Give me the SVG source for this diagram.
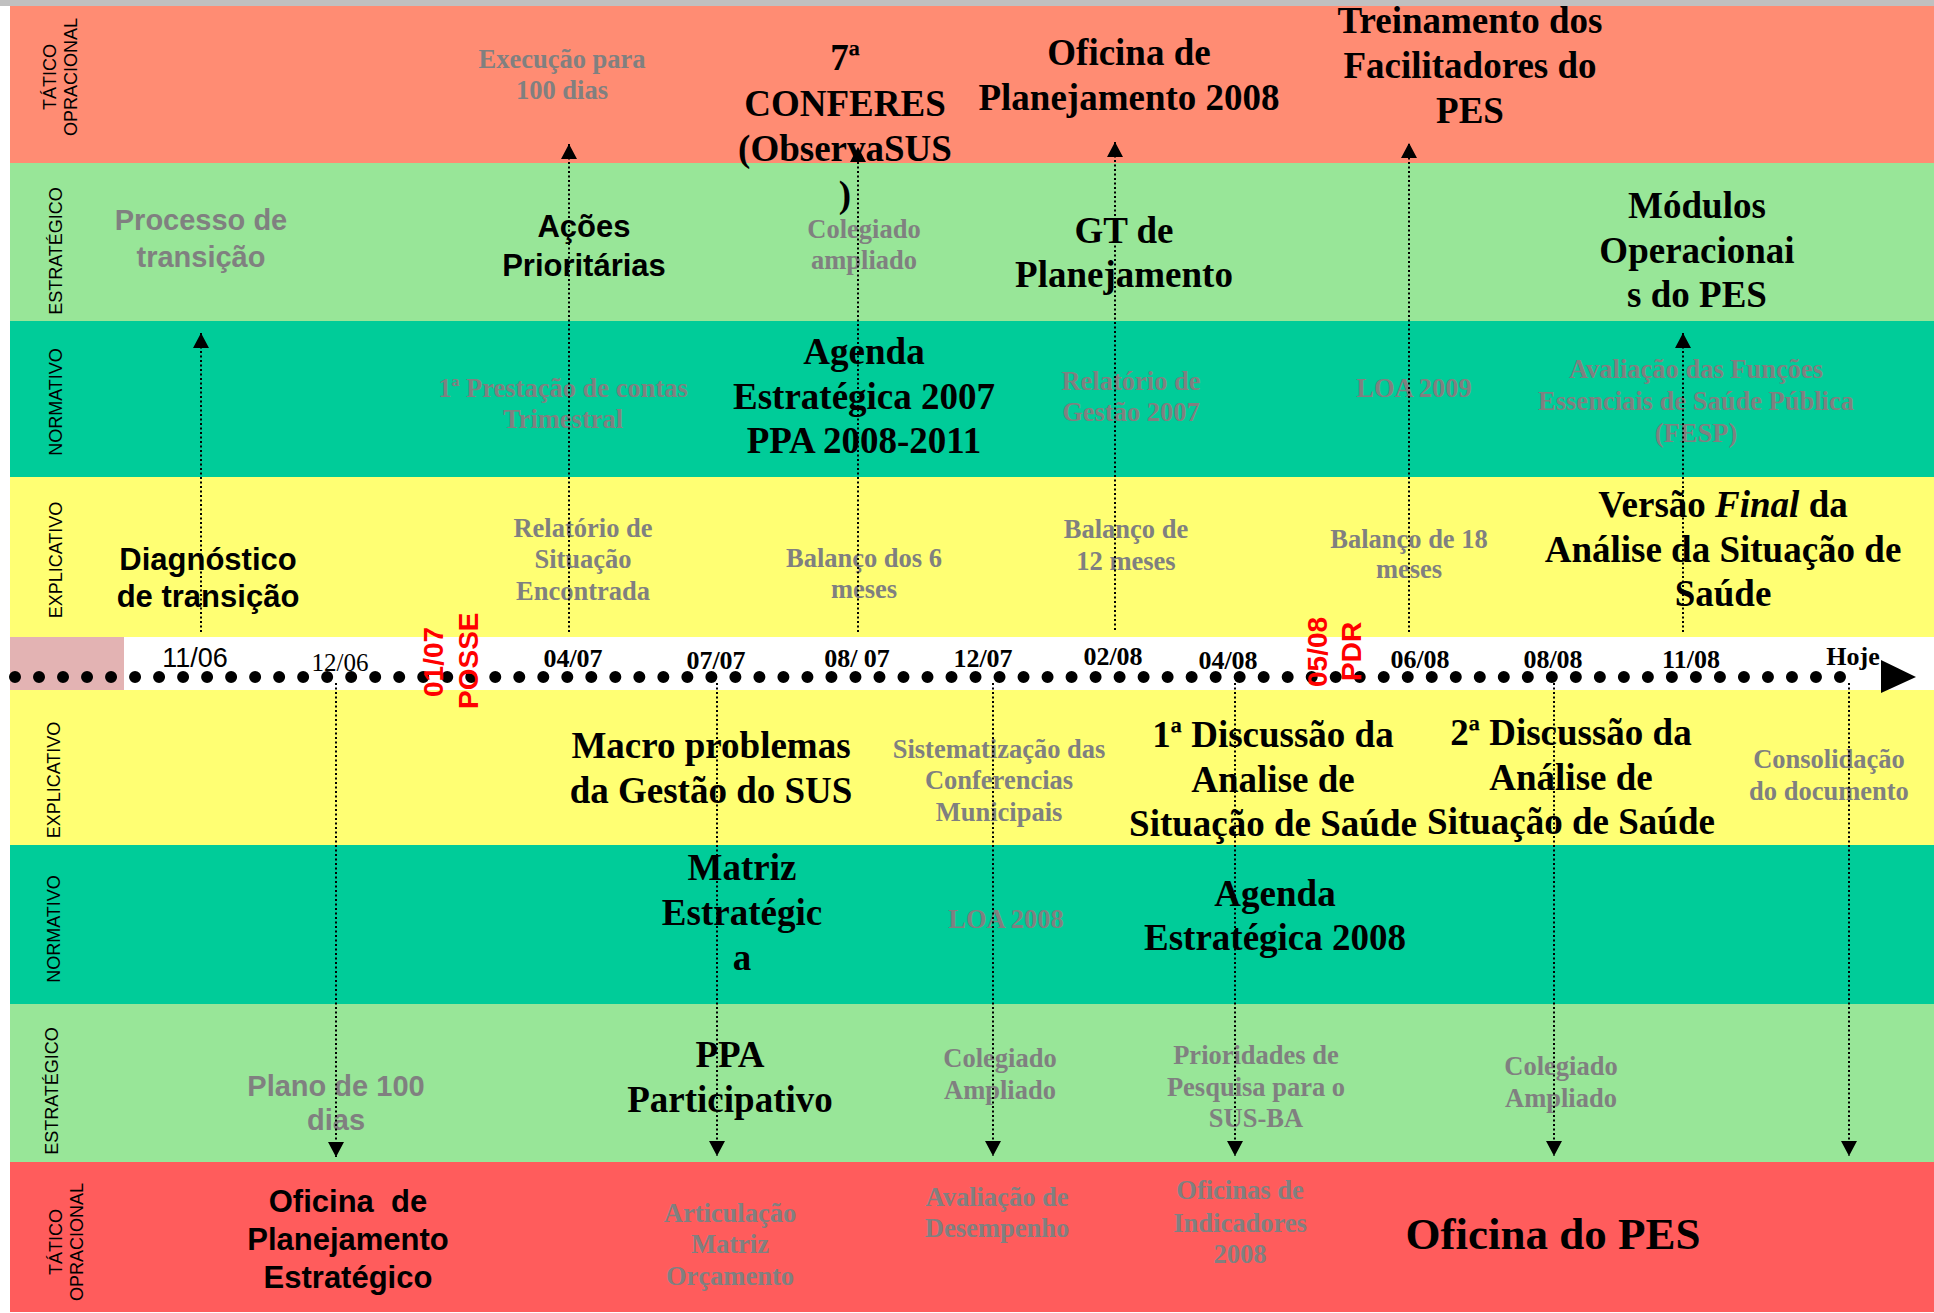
<svg xmlns="http://www.w3.org/2000/svg" width="1934" height="1313" viewBox="0 0 1934 1313">
<defs>
<style>
.s{font-family:"Liberation Serif","Times New Roman",serif;font-weight:bold;text-anchor:middle}
.g{fill:#808080;font-size:26.5px}
.k{fill:#000;font-size:37px}
.a{font-family:"Liberation Sans",Arial,sans-serif;font-weight:bold;text-anchor:middle}
.ag{fill:#808080;font-size:29px}
.ak{fill:#000;font-size:31px}
.side{font-family:"Liberation Sans",Arial,sans-serif;font-size:18px;fill:#000;text-anchor:middle}
.date{font-family:"Liberation Serif","Times New Roman",serif;font-weight:bold;font-size:26px;text-anchor:middle;fill:#000}
.red{font-family:"Liberation Sans",Arial,sans-serif;font-weight:bold;font-size:28px;fill:#FF0000}
.conn{stroke:#000;stroke-width:2;stroke-dasharray:2 2.5;fill:none}
</style>
<marker id="ah" markerUnits="userSpaceOnUse" markerWidth="16" markerHeight="16" refX="15" refY="8" orient="auto" viewBox="0 0 16 16"><path d="M0,0 L15,8 L0,16 z" fill="#000"/></marker>
</defs>
<g id="bands">
<rect x="0" y="0" width="1934" height="6" fill="#C0C0C0"/>
<rect x="10" y="6" width="1924" height="157" fill="#FF8C73"/>
<rect x="10" y="163" width="1924" height="158" fill="#98E698"/>
<rect x="10" y="321" width="1924" height="156" fill="#00CC99"/>
<rect x="10" y="477" width="1924" height="160" fill="#FFFF73"/>
<rect x="10" y="637" width="114" height="53" fill="#E3B3B3"/>
<rect x="10" y="690" width="1924" height="155" fill="#FFFF73"/>
<rect x="10" y="845" width="1924" height="159" fill="#00CC99"/>
<rect x="10" y="1004" width="1924" height="158" fill="#98E698"/>
<rect x="10" y="1162" width="1924" height="150" fill="#FF5C5C"/>
</g>
<g id="side-labels" class="side">
<g transform="translate(56,77) rotate(-90)"><text x="0" y="0">TÁTICO</text><text x="0" y="21">OPRACIONAL</text></g>
<text transform="translate(62,251) rotate(-90)">ESTRATÉGICO</text>
<text transform="translate(62,402) rotate(-90)">NORMATIVO</text>
<text transform="translate(62,560) rotate(-90)">EXPLICATIVO</text>
<text transform="translate(60,780) rotate(-90)">EXPLICATIVO</text>
<text transform="translate(60,929) rotate(-90)">NORMATIVO</text>
<text transform="translate(58,1091) rotate(-90)">ESTRATÉGICO</text>
<g transform="translate(62,1242) rotate(-90)"><text x="0" y="0">TÁTICO</text><text x="0" y="21">OPRACIONAL</text></g>
</g>
<g id="timeline">
<line x1="15" y1="677" x2="1864" y2="677" stroke="#000" stroke-width="12" stroke-linecap="round" stroke-dasharray="0 24.013"/>
<polygon points="1881,660 1916,677 1881,693" fill="#000"/>
<text x="195" y="667" font-family="Liberation Sans, Arial, sans-serif" font-size="27" text-anchor="middle">11/06</text>
<text x="340" y="671" font-family="Liberation Serif, Times New Roman, serif" font-size="25" text-anchor="middle">12/06</text>
<text class="date" x="573" y="667">04/07</text>
<text class="date" x="716" y="669">07/07</text>
<text class="date" x="857" y="667">08/ 07</text>
<text class="date" x="983" y="667">12/07</text>
<text class="date" x="1113" y="665">02/08</text>
<text class="date" x="1228" y="669">04/08</text>
<text class="date" x="1420" y="668">06/08</text>
<text class="date" x="1553" y="668">08/08</text>
<text class="date" x="1691" y="668">11/08</text>
<text class="date" x="1853" y="665">Hoje</text>
<text class="red" transform="translate(443,697) rotate(-90)">01/07</text>
<text class="red" transform="translate(478,709) rotate(-90)">POSSE</text>
<text class="red" transform="translate(1327,687) rotate(-90)">05/08</text>
<text class="red" transform="translate(1361,681) rotate(-90)">PDR</text>
</g>
<g id="n-exec"><text class="s g"><tspan x="562" y="68">Execução para</tspan><tspan x="562" y="99">100 dias</tspan></text></g>
<g id="n-conferes"><text class="s k"><tspan x="845" y="70">7ª</tspan><tspan x="845" y="116">CONFERES</tspan><tspan x="845" y="161">(ObservaSUS</tspan><tspan x="845" y="207">)</tspan></text></g>
<g id="n-oficina2008"><text class="s k"><tspan x="1129" y="65">Oficina de</tspan><tspan x="1129" y="110">Planejamento 2008</tspan></text></g>
<g id="n-treinamento"><text class="s k"><tspan x="1470" y="33">Treinamento dos</tspan><tspan x="1470" y="78">Facilitadores do</tspan><tspan x="1470" y="123">PES</tspan></text></g>
<g id="n-processo"><text class="a ag"><tspan x="201" y="230">Processo de</tspan><tspan x="201" y="267">transição</tspan></text></g>
<g id="n-acoes"><text class="a ak"><tspan x="584" y="237">Ações</tspan><tspan x="584" y="276">Prioritárias</tspan></text></g>
<g id="n-colegiado1"><text class="s g"><tspan x="864" y="238">Colegiado</tspan><tspan x="864" y="269">ampliado</tspan></text></g>
<g id="n-gt"><text class="s k"><tspan x="1124" y="243">GT de</tspan><tspan x="1124" y="287">Planejamento</tspan></text></g>
<g id="n-modulos"><text class="s k"><tspan x="1697" y="218">Módulos</tspan><tspan x="1697" y="263">Operacionai</tspan><tspan x="1697" y="307">s do PES</tspan></text></g>
<g id="n-prestacao"><text class="s g"><tspan x="563" y="397">1ª Prestação de contas</tspan><tspan x="563" y="428">Trimestral</tspan></text></g>
<g id="n-agenda2007"><text class="s k"><tspan x="864" y="364">Agenda</tspan><tspan x="864" y="409">Estratégica 2007</tspan><tspan x="864" y="453">PPA 2008-2011</tspan></text></g>
<g id="n-relgestao"><text class="s g"><tspan x="1131" y="390">Relatório de</tspan><tspan x="1131" y="421">Gestão 2007</tspan></text></g>
<g id="n-loa2009"><text class="s g" x="1414" y="397">LOA 2009</text></g>
<g id="n-fesp"><text class="s g"><tspan x="1696" y="378">Avaliação das Funções</tspan><tspan x="1696" y="410">Essenciais de Saúde Pública</tspan><tspan x="1696" y="442">(FESP)</tspan></text></g>
<g id="n-diagnostico"><text class="a ak"><tspan x="208" y="570">Diagnóstico</tspan><tspan x="208" y="607">de transição</tspan></text></g>
<g id="n-relsituacao"><text class="s g"><tspan x="583" y="537">Relatório de</tspan><tspan x="583" y="568">Situação</tspan><tspan x="583" y="600">Encontrada</tspan></text></g>
<g id="n-balanco6"><text class="s g"><tspan x="864" y="567">Balanço dos 6</tspan><tspan x="864" y="598">meses</tspan></text></g>
<g id="n-balanco12"><text class="s g"><tspan x="1126" y="538">Balanço de</tspan><tspan x="1126" y="570">12 meses</tspan></text></g>
<g id="n-balanco18"><text class="s g"><tspan x="1409" y="548">Balanço de 18</tspan><tspan x="1409" y="578">meses</tspan></text></g>
<g id="n-versao"><text class="s k"><tspan x="1723" y="517">Versão <tspan font-style="italic">Final</tspan> da</tspan><tspan x="1723" y="562">Análise da Situação de</tspan><tspan x="1723" y="606">Saúde</tspan></text></g>
<g id="n-macro"><text class="s k"><tspan x="711" y="758">Macro problemas</tspan><tspan x="711" y="803">da Gestão do SUS</tspan></text></g>
<g id="n-sistematizacao"><text class="s g"><tspan x="999" y="758">Sistematização das</tspan><tspan x="999" y="789">Conferencias</tspan><tspan x="999" y="821">Municipais</tspan></text></g>
<g id="n-disc1"><text class="s k"><tspan x="1273" y="747">1ª Discussão da</tspan><tspan x="1273" y="792">Analise de</tspan><tspan x="1273" y="836">Situação de Saúde</tspan></text></g>
<g id="n-disc2"><text class="s k"><tspan x="1571" y="745">2ª Discussão da</tspan><tspan x="1571" y="790">Análise de</tspan><tspan x="1571" y="834">Situação de Saúde</tspan></text></g>
<g id="n-consolidacao"><text class="s g"><tspan x="1829" y="768">Consolidação</tspan><tspan x="1829" y="800">do documento</tspan></text></g>
<g id="n-matriz"><text class="s k"><tspan x="742" y="880">Matriz</tspan><tspan x="742" y="925">Estratégic</tspan><tspan x="742" y="970">a</tspan></text></g>
<g id="n-loa2008"><text class="s g" x="1006" y="928">LOA 2008</text></g>
<g id="n-agenda2008"><text class="s k"><tspan x="1275" y="906">Agenda</tspan><tspan x="1275" y="950">Estratégica 2008</tspan></text></g>
<g id="n-plano"><text class="a ag"><tspan x="336" y="1096">Plano de 100</tspan><tspan x="336" y="1130">dias</tspan></text></g>
<g id="n-ppa"><text class="s k"><tspan x="730" y="1067">PPA</tspan><tspan x="730" y="1112">Participativo</tspan></text></g>
<g id="n-colegiado2"><text class="s g"><tspan x="1000" y="1067">Colegiado</tspan><tspan x="1000" y="1099">Ampliado</tspan></text></g>
<g id="n-prioridades"><text class="s g"><tspan x="1256" y="1064">Prioridades de</tspan><tspan x="1256" y="1096">Pesquisa para o</tspan><tspan x="1256" y="1127">SUS-BA</tspan></text></g>
<g id="n-colegiado3"><text class="s g"><tspan x="1561" y="1075">Colegiado</tspan><tspan x="1561" y="1107">Ampliado</tspan></text></g>
<g id="n-oficinaplan"><text class="a ak" xml:space="preserve"><tspan x="348" y="1212">Oficina  de</tspan><tspan x="348" y="1250">Planejamento</tspan><tspan x="348" y="1288">Estratégico</tspan></text></g>
<g id="n-articulacao"><text class="s g"><tspan x="730" y="1222">Articulação</tspan><tspan x="730" y="1253">Matriz</tspan><tspan x="730" y="1285">Orçamento</tspan></text></g>
<g id="n-avaliacao"><text class="s g"><tspan x="997" y="1206">Avaliação de</tspan><tspan x="997" y="1237">Desempenho</tspan></text></g>
<g id="n-oficinas"><text class="s g"><tspan x="1240" y="1199">Oficinas de</tspan><tspan x="1240" y="1232">Indicadores</tspan><tspan x="1240" y="1263">2008</tspan></text></g>
<g id="n-oficinapes"><text class="s" x="1553" y="1249" font-size="45" fill="#000">Oficina do PES</text></g>
<g id="connectors" class="conn">
<line x1="201" y1="632" x2="201" y2="333" marker-end="url(#ah)"/>
<line x1="569" y1="632" x2="569" y2="144" marker-end="url(#ah)"/>
<line x1="858" y1="632" x2="858" y2="147" marker-end="url(#ah)"/>
<line x1="1115" y1="630" x2="1115" y2="142" marker-end="url(#ah)"/>
<line x1="1409" y1="632" x2="1409" y2="143" marker-end="url(#ah)"/>
<line x1="1683" y1="632" x2="1683" y2="333" marker-end="url(#ah)"/>
<line x1="336" y1="683" x2="336" y2="1157" marker-end="url(#ah)"/>
<line x1="717" y1="683" x2="717" y2="1156" marker-end="url(#ah)"/>
<line x1="993" y1="683" x2="993" y2="1156" marker-end="url(#ah)"/>
<line x1="1235" y1="683" x2="1235" y2="1156" marker-end="url(#ah)"/>
<line x1="1554" y1="683" x2="1554" y2="1156" marker-end="url(#ah)"/>
<line x1="1849" y1="683" x2="1849" y2="1156" marker-end="url(#ah)"/>
</g>
</svg>
